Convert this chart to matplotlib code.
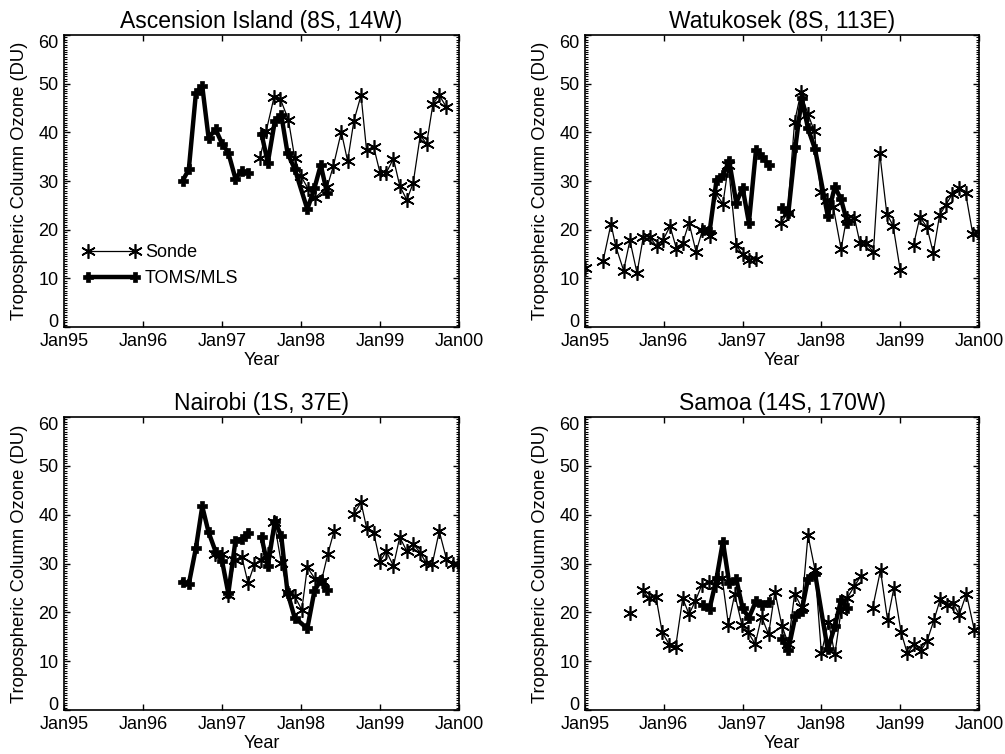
import matplotlib
matplotlib.use("Agg")
import matplotlib.pyplot as plt
import numpy as np
from matplotlib.ticker import MultipleLocator

plt.rcParams["font.family"] = ["Liberation Sans", "DejaVu Sans"]

nan = np.nan

# Ascension Island
asc_sonde_t = [1997.48, 1997.56, 1997.66, 1997.74, 1997.84, 1997.92, 1998.00, 1998.09,
               1998.18, 1998.33, 1998.41, 1998.51, 1998.59, 1998.67, 1998.76, 1998.83,
               1998.92, 1999.00, 1999.08, 1999.17, 1999.25, 1999.34, 1999.42, 1999.51,
               1999.59, 1999.67, 1999.75, 1999.84]
asc_sonde_v = [34.7, 40.3, 47.3, 46.8, 42.6, 34.8, 31.0, 28.4, 26.6, 28.7, 33.1, 40.1,
               34.1, 42.4, 47.6, 36.3, 37.0, 31.7, 31.7, 34.6, 29.0, 26.1, 29.6, 39.4,
               37.6, 45.8, 47.6, 45.2]
asc_toms_t = [1996.50, 1996.58, 1996.67, 1996.75, 1996.83, 1996.92, 1997.00, 1997.08,
              1997.17, 1997.25, 1997.33, 1997.42, 1997.50, 1997.58, 1997.67, 1997.75,
              1997.83, 1997.92, 1998.08, 1998.17, 1998.25, 1998.33]
asc_toms_v = [30.0, 32.4, 48.1, 49.5, 38.9, 40.6, 37.7, 35.8, 30.5, 32.1, 31.6, nan,
              39.7, 33.8, 42.4, 43.6, 35.7, 32.5, 24.2, 28.5, 33.3, 27.5]

# Watukosek
wat_sonde_t = [1995.00, 1995.12, 1995.23, 1995.33, 1995.39, 1995.49, 1995.57, 1995.66,
               1995.74, 1995.82, 1995.91, 1995.99, 1996.08, 1996.16, 1996.24, 1996.32,
               1996.41, 1996.49, 1996.58, 1996.65, 1996.75, 1996.82, 1996.92, 1997.00,
               1997.08, 1997.17, 1997.33, 1997.49, 1997.57, 1997.66, 1997.74, 1997.83,
               1997.91, 1997.99, 1998.07, 1998.15, 1998.25, 1998.32, 1998.42, 1998.49,
               1998.57, 1998.66, 1998.74, 1998.83, 1998.91, 1999.00, 1999.08, 1999.17,
               1999.25, 1999.34, 1999.42, 1999.50, 1999.58, 1999.66, 1999.75, 1999.83,
               1999.92, 1999.99]
wat_sonde_v = [12.2, nan, 13.6, 21.2, 16.6, 11.6, 17.8, 11.1,
               18.5, 18.5, 16.6, 17.9, 20.7, 16.1, 17.3, 21.4,
               15.4, 19.9, 18.8, 27.7, 25.3, 33.2, 16.8, 14.9,
               13.8, 14.0, nan, 21.4, 23.4, 42.2, 48.2, 43.7,
               40.3, 27.8, 26.0, 24.7, 16.0, 22.4, 22.4, 17.2,
               17.2, 15.4, 35.8, 23.3, 20.8, 11.7, nan, 16.9,
               22.6, 20.5, 15.2, 23.0, 25.1, 27.3, 28.6, 27.5,
               19.2, 19.5]
wat_toms_t = asc_toms_t
wat_toms_v = [20.0, 19.5, 30.3, 31.2, 34.1, 25.5, 28.6, 21.4, 36.4, 35.0, 33.3, nan,
              24.4, 23.4, 37.0, 47.0, 40.8, 36.5, 22.9, 28.8, 26.2, 21.4]

# Nairobi
nai_sonde_t = [1996.91, 1997.00, 1997.08, 1997.16, 1997.25, 1997.33, 1997.41, 1997.49,
               1997.58, 1997.66, 1997.75, 1997.84, 1997.92, 1998.01, 1998.08, 1998.18,
               1998.26, 1998.34, 1998.42, 1998.54, 1998.67, 1998.76, 1998.83, 1998.92,
               1999.00, 1999.08, 1999.17, 1999.25, 1999.34, 1999.42, 1999.51, 1999.58,
               1999.66, 1999.75, 1999.84, 1999.92, 1999.99]
nai_sonde_v = [31.9, 32.0, 23.6, 30.7, 31.4, 26.0, 29.8, 30.8,
               32.0, 38.6, 30.1, 23.9, 23.3, 20.5, 29.2, 26.8,
               26.5, 32.0, 36.7, nan, 40.2, 42.5, 37.3, 36.3,
               30.4, 32.5, 29.5, 35.4, 32.5, 34.0, 32.2, 30.2,
               29.8, 36.6, 31.0, 29.9, 30.0]
nai_toms_t = asc_toms_t
nai_toms_v = [26.3, 25.8, 33.2, 41.7, 36.4, 32.4, 30.6, 23.9, 34.6, 35.0, 36.3, nan,
              35.4, 29.5, 38.7, 35.6, 24.0, 18.9, 16.7, 24.4, 26.6, 24.6]

# Samoa
sam_sonde_t = [1995.57, 1995.65, 1995.73, 1995.81, 1995.90, 1995.98, 1996.07, 1996.15,
               1996.24, 1996.32, 1996.40, 1996.48, 1996.57, 1996.66, 1996.74, 1996.82,
               1996.90, 1996.99, 1997.07, 1997.16, 1997.24, 1997.33, 1997.41, 1997.50,
               1997.58, 1997.66, 1997.75, 1997.83, 1997.92, 1998.00, 1998.09, 1998.17,
               1998.25, 1998.33, 1998.42, 1998.50, 1998.58, 1998.65, 1998.75, 1998.84,
               1998.92, 1999.01, 1999.09, 1999.18, 1999.26, 1999.34, 1999.43, 1999.51,
               1999.60, 1999.67, 1999.75, 1999.84, 1999.94]
sam_sonde_v = [19.8, nan, 24.6, 22.9, 23.2, 15.9, 13.4, 12.9,
               22.9, 19.6, 22.3, 25.5, 26.3, 25.5, 27.0, 17.5,
               23.7, 17.5, 15.9, 13.5, 19.1, 15.5, 24.2, 17.2,
               13.6, 23.8, 21.0, 35.8, 28.6, 11.6, 18.1, 11.4,
               20.3, 23.0, 25.4, 27.4, nan, 20.9, 28.6, 18.4,
               25.0, 16.0, 11.6, 13.6, 12.1, 14.1, 18.5, 22.8,
               21.4, 21.9, 19.5, 23.8, 16.4]
sam_toms_t = asc_toms_t
sam_toms_v = [21.5, 20.7, 27.0, 34.5, 26.0, 26.8, 20.8, 18.9, 22.3, 21.6, 22.1, nan,
              14.5, 12.3, 19.2, 20.3, 26.9, 27.9, 12.4, 17.1, 22.6, 20.8]

stations = [
    ("Ascension Island (8S, 14W)", asc_sonde_t, asc_sonde_v, asc_toms_t, asc_toms_v),
    ("Watukosek (8S, 113E)", wat_sonde_t, wat_sonde_v, wat_toms_t, wat_toms_v),
    ("Nairobi (1S, 37E)", nai_sonde_t, nai_sonde_v, nai_toms_t, nai_toms_v),
    ("Samoa (14S, 170W)", sam_sonde_t, sam_sonde_v, sam_toms_t, sam_toms_v),
]

year_ticks = [1995, 1996, 1997, 1998, 1999, 2000]
year_labels = ["Jan95", "Jan96", "Jan97", "Jan98", "Jan99", "Jan00"]

W, H = 1005, 754
fig = plt.figure(figsize=(W / 100, H / 100), dpi=100)

# axes boxes in pixels: left, top, right, bottom
boxes = [(64, 35, 459, 327), (585, 35, 979, 327),
         (64, 417, 459, 710), (585, 417, 979, 710)]

for i, (box, (title, st, sv, tt, tv)) in enumerate(zip(boxes, stations)):
    l, t, r, b = box
    ax = fig.add_axes([l / W, (H - b) / H, (r - l) / W, (b - t) / H])
    ax.plot(st, sv, color="black", lw=0.9, marker=(6, 2, 0), ms=10.5, mew=1.2,
            label="Sonde")
    ax.plot(tt, tv, color="black", lw=3.2, marker="P", ms=6.5, mew=0.5,
            label="TOMS/MLS")
    ax.set_xlim(1995, 2000)
    ax.set_ylim(0, 60)
    ax.set_xticks(year_ticks)
    ax.set_xticklabels(year_labels)
    ax.set_yticks(range(0, 61, 10))
    ax.yaxis.set_minor_locator(MultipleLocator(0.5))
    ax.tick_params(which="both", direction="in", top=True, right=True,
                   labelsize=13, color="black")
    ax.tick_params(which="major", length=4.5, width=1, pad=4)
    ax.tick_params(which="minor", length=2, width=0.8)
    # end labels pulled inside the axis range, as in the original
    ylabs = ax.get_yticklabels()
    ylabs[0].set_verticalalignment("baseline")
    ylabs[-1].set_verticalalignment("top")
    for s in ax.spines.values():
        s.set_linewidth(1.2)
    ax.set_title(title, fontsize=16.5, pad=5)
    ax.set_xlabel("Year", fontsize=13, labelpad=2)
    ax.set_ylabel("Tropospheric Column Ozone (DU)", fontsize=13.2, labelpad=7)
    if i == 0:
        ax.legend(loc="center left", bbox_to_anchor=(0.047, 0.21), frameon=False,
                  fontsize=13, numpoints=2, handlelength=3.2, handletextpad=0.25,
                  labelspacing=0.5, borderpad=0, borderaxespad=0)

fig.savefig("out.png", dpi=100, facecolor="white")
